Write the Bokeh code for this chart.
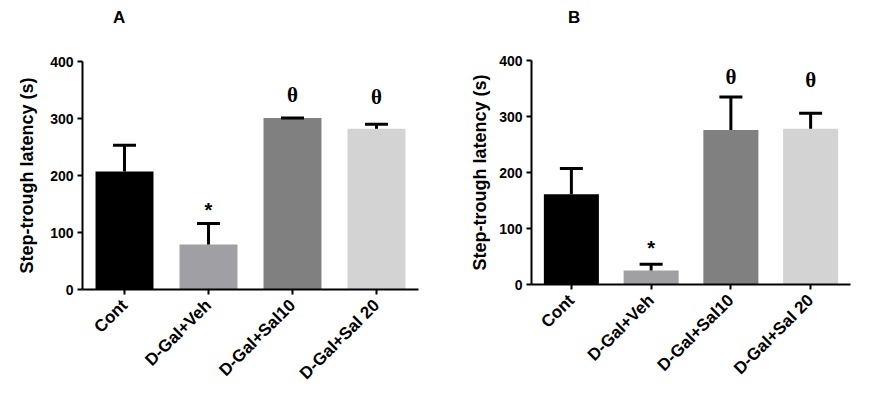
from bokeh.plotting import figure
from bokeh.models import Range1d, FactorRange, SingleIntervalTicker, ColumnDataSource, Div
from bokeh.layouts import row, column
from bokeh.embed import file_html
from bokeh.resources import INLINE
from bokeh.core.properties import value
import math

# ---- data ----
groups = ["Cont", "D-Gal+Veh", "D-Gal+Sal10", "D-Gal+Sal 20"]
colors = ["#000000", "#A0A0A4", "#808080", "#D3D3D3"]

means_a = [207, 79, 301, 282]
sem_a = [46, 37, 0, 8]
marks_a = ["", "*", "\u03b8", "\u03b8"]
mark_y_a = [0, 140, 342, 337]

means_b = [161, 25, 276, 278]
sem_b = [46, 11, 59, 28]
marks_b = ["", "*", "\u03b8", "\u03b8"]
mark_y_b = [0, 66, 370, 365]

FONT = "Liberation Sans"


def panel(title, means, sems, marks, mark_y, w, h, bl, br, bt, bb, tpad, lab_standoff):
    head = Div(text=title, width=w, height=36,
               styles={"font-family": FONT, "font-size": "17px", "font-weight": "bold",
                       "color": "black", "line-height": "36px", "padding-left": f"{tpad}px",
                       "margin": "0"})
    p = figure(x_range=FactorRange(*groups, range_padding=0), y_range=Range1d(0, 400),
               width=w, height=h, output_backend="svg", toolbar_location=None,
               min_border_left=bl, min_border_right=br, min_border_top=bt,
               min_border_bottom=bb, outline_line_color=None)
    src = ColumnDataSource(dict(g=groups, m=means, c=colors,
                                top=[m + s for m, s in zip(means, sems)]))
    p.vbar(x="g", top="m", bottom=0, width=0.69, fill_color="c", line_color=None, source=src)
    p.segment(x0="g", y0="m", x1="g", y1="top", line_color="black", line_width=3, source=src)
    p.scatter(x="g", y="top", marker="dash", size=23, line_color="black", line_width=3, source=src)

    stars = [(g, y) for g, y, m in zip(groups, mark_y, marks) if m == "*"]
    thetas = [(g, y) for g, y, m in zip(groups, mark_y, marks) if m and m != "*"]
    p.text(x=[g for g, _ in stars], y=[y for _, y in stars], text=["*"] * len(stars),
           text_font=value(FONT), text_font_style="bold", text_font_size="20px",
           text_align="center", text_baseline="middle", text_color="black")
    p.text(x=[g for g, _ in thetas], y=[y for _, y in thetas], text=["\u03b8"] * len(thetas),
           text_font=value("Liberation Serif"), text_font_style="bold", text_font_size="21px",
           text_align="center", text_baseline="middle", text_color="black")

    p.xgrid.visible = False
    p.ygrid.visible = False
    for ax in (p.xaxis, p.yaxis):
        ax.axis_line_width = 2
        ax.axis_line_color = "black"
        ax.major_tick_line_width = 2
        ax.major_tick_line_color = "black"
        ax.major_tick_out = 5
        ax.major_tick_in = 0
        ax.minor_tick_line_color = None
        ax.major_label_text_font = FONT
        ax.major_label_text_font_style = "bold"
        ax.major_label_text_color = "black"
    p.yaxis.ticker = SingleIntervalTicker(interval=100)
    p.yaxis.major_label_text_font_size = "14px"
    p.yaxis.major_label_standoff = 4
    p.yaxis.axis_label = "Step-trough latency (s)"
    p.yaxis.axis_label_text_font = FONT
    p.yaxis.axis_label_text_font_style = "bold"
    p.yaxis.axis_label_text_font_size = "18px"
    p.yaxis.axis_label_text_color = "black"
    p.yaxis.axis_label_standoff = lab_standoff
    p.xaxis.major_label_orientation = math.pi / 4
    p.xaxis.major_label_text_font_size = "17px"
    p.xaxis.major_label_standoff = 8
    return column(head, p, spacing=0)


pa = panel("A", means_a, sem_a, marks_a, mark_y_a, 440, 357, 82, 22, 25, 104, 113, 10)
pb = panel("B", means_b, sem_b, marks_b, mark_y_b, 415, 352, 91, 5, 24, 104, 128, 6)

layout = row(pa, pb)
open("out.html", "w").write(file_html(layout, INLINE))
